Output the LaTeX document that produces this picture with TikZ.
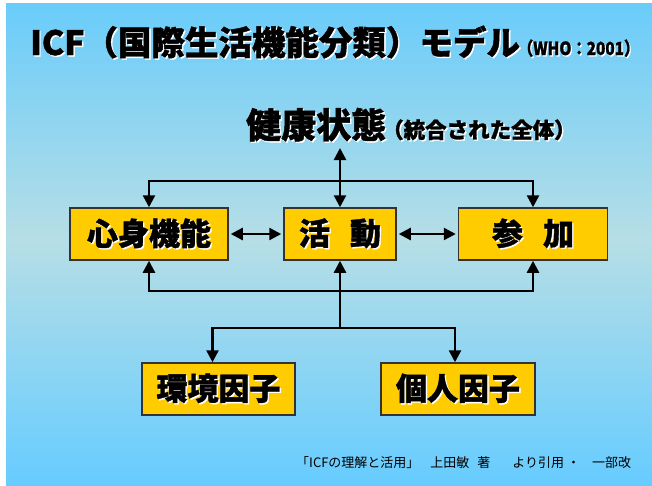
\documentclass[tikz,border=0pt]{standalone}
\usepackage{fontspec}
\setmainfont{Noto Sans CJK JP}
\newfontfamily\heavyfam[BoldFeatures={FakeBold=1.3}]{Noto Sans CJK JP}
\newcommand\heavy{\heavyfam\bfseries}
\usetikzlibrary{arrows.meta}
\definecolor{boxy}{HTML}{FFCC00}
\definecolor{edge}{HTML}{333333}
\definecolor{bgtop}{HTML}{6ACCFA}
\definecolor{bgbot}{HTML}{66CCFF}
\definecolor{bgmid}{HTML}{B6DEE6}
\newcommand\shd[1]{\rlap{\hspace{1.4pt}\raisebox{-1.4pt}{\color{white}#1}}#1}
\tikzset{
  box/.style={draw=edge, line width=1.5pt, fill=boxy, inner sep=0pt,
    minimum height=52pt, font=\fontsize{31}{31}\selectfont\heavy},
  conn/.style={line width=2.5pt, -{Triangle[width=12pt,length=12pt]}},
  conn2/.style={line width=2.5pt, {Triangle[width=12pt,length=12pt]}-{Triangle[width=12pt,length=12pt]},
    shorten <=2pt, shorten >=2pt},
  plain/.style={line width=2.5pt}
}
\begin{document}
\begin{tikzpicture}[x=1pt,y=-1pt]
\useasboundingbox (0,0) rectangle (652,485);
\fill[white] (0,0) rectangle (652,485);
\shade[top color=bgtop, bottom color=bgmid] (6,3) rectangle (652,240);
\shade[top color=bgmid, bottom color=bgbot] (6,240) rectangle (652,485);

% title
\node[anchor=base west, inner sep=0pt, font=\fontsize{33.5}{33.5}\selectfont\heavy] (title) at (30,55)
  {\shd{ICF（国際生活機能分類）モデル}\hspace{-2pt}{\fontsize{18}{18}\selectfont\scalebox{0.85}[1]{\shd{（WHO：2001）}}}};

% health condition
\node[anchor=base west, inner sep=0pt, font=\fontsize{35}{35}\selectfont\heavy] (kenko) at (246,138)
  {\shd{健康状態}\hspace{-4pt}{\fontsize{21.5}{21.5}\selectfont\shd{（統合された全体）}}};
\coordinate (ktip) at (340,148);

% boxes
\node[box, minimum width=158pt] (shinshin) at (149,234) {\shd{心身機能}};
\node[box, minimum width=112pt] (katsudo) at (340,234) {\shd{活\hspace{20pt}動}};
\node[box, minimum width=149pt] (sanka) at (533,234) {\shd{参\hspace{20pt}加}};
\node[box, minimum width=153pt] (kankyo) at (218.5,389) {\shd{環境因子}};
\node[box, minimum width=154pt] (kojin) at (458,389) {\shd{個人因子}};

% hubs
\coordinate (hubA) at (340,181);
\coordinate (hubB) at (340,291);
\coordinate (hubC) at (340,328);

% top connectors
\draw[conn] (hubA) -- (ktip);
\draw[conn] (hubA) -- (katsudo.north);
\draw[conn] (hubA) -| (shinshin.north);
\draw[conn] (hubA) -| (sanka.north);

% middle double arrows
\draw[conn2] (shinshin.east) -- (katsudo.west);
\draw[conn2] (katsudo.east) -- (sanka.west);

% bottom connectors
\draw[conn] (hubB) -- (katsudo.south);
\draw[conn] (hubB) -| (shinshin.south);
\draw[conn] (hubB) -| (sanka.south);
\draw[plain] (hubB) -- (hubC);
\draw[conn] (hubC) -| ([xshift=-6pt]kankyo.north);
\draw[conn] (hubC) -| ([xshift=-3pt]kojin.north);

% footer
\node[anchor=base west, inner sep=0pt, font=\fontsize{13}{13}\selectfont] (foot) at (296,467)
  {「ICFの理解と活用」\hspace{11pt}上田敏\hspace{8pt}著\hspace{22pt}より引用\hspace{3pt}・\hspace{12pt}一部改};
\end{tikzpicture}
\end{document}
